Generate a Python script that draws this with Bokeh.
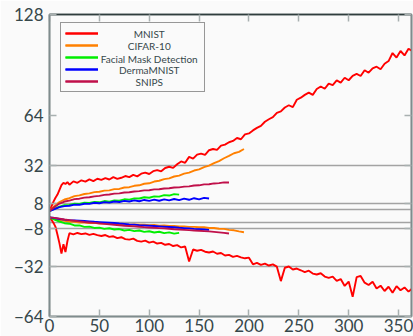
from bokeh.plotting import figure
from bokeh.models import (FixedTicker, LinearAxis, Legend, LegendItem, Range1d, Label)
from bokeh.embed import file_html
from bokeh.resources import INLINE

# ---------------- data ----------------
mnist_epochs = list(range(0, 20, 2)) + list(range(20, 365, 4))
mnist_upper = [3.0, 6.0, 9.0, 11.5, 13.5, 16.5, 19.5, 21.0, 20.2, 21.4,
               19.8, 21.9, 21.0, 22.6, 21.8, 23.2, 22.1, 23.6, 22.9, 24.0,
               23.1, 24.6, 23.5, 24.2, 25.3, 24.6, 26.0, 25.1, 26.8, 27.5,
               26.6, 28.4, 29.1, 28.3, 30.4, 31.2, 30.5, 32.8, 34.6, 33.7,
               37.5, 36.4, 38.9, 39.6, 38.8, 41.7, 42.5, 41.9, 44.6, 45.3,
               46.8, 47.6, 49.5, 48.7, 51.8, 52.4, 54.3, 55.9, 57.2, 59.8,
               61.4, 62.7, 65.5, 66.4, 68.9, 70.3, 69.1, 73.8, 75.1, 76.9,
               78.3, 76.9, 80.6, 82.2, 80.8, 84.0, 83.1, 86.1, 84.7, 87.8,
               86.2, 89.0, 90.2, 88.9, 92.6, 91.0, 93.8, 94.8, 93.2, 96.7,
               98.4, 103.5, 100.6, 104.8, 102.0, 106.2, 104.6]
mnist_lower = [-1.0, -2.5, -4.5, -7.0, -12.0, -17.5, -24.0, -18.0, -23.0, -16.0,
               -11.0, -11.8, -10.9, -11.6, -11.2, -12.1, -11.5, -12.3, -12.8, -12.2,
               -13.4, -13.0, -14.2, -13.6, -14.8, -15.1, -14.5, -15.9, -16.4, -15.8,
               -17.0, -16.4, -17.6, -17.2, -18.4, -17.9, -19.2, -18.6, -20.1, -19.5,
               -29.0, -21.4, -22.2, -21.6, -22.8, -23.3, -22.7, -24.1, -23.6, -25.2,
               -24.8, -26.1, -25.5, -26.4, -27.0, -26.6, -30.8, -29.9, -31.2, -30.4,
               -31.6, -30.9, -32.3, -41.5, -33.0, -32.2, -34.1, -33.5, -34.6, -35.8,
               -34.9, -36.7, -37.3, -36.5, -38.6, -39.4, -38.7, -41.3, -40.2, -44.6,
               -41.8, -51.5, -39.0, -38.2, -42.5, -44.0, -41.9, -46.2, -44.4, -47.8,
               -45.1, -48.9, -44.7, -47.3, -45.5, -48.2, -46.0]

cifar_epochs = list(range(0, 196, 5))
cifar_upper = [3.0, 6.3, 8.8, 10.4, 11.2, 12.5, 13.0, 13.9, 14.3, 15.1,
               15.3, 16.0, 16.2, 17.0, 17.1, 18.0, 18.2, 19.1, 19.4, 20.4,
               20.7, 21.8, 22.3, 23.3, 23.8, 25.0, 25.6, 26.8, 27.5, 28.8,
               29.5, 31.0, 31.9, 33.5, 34.8, 36.6, 38.1, 39.8, 40.7, 42.5]
cifar_lower = [-1.0, -2.0, -2.8, -3.1, -3.7, -3.8, -4.2, -4.2, -4.6, -4.5,
               -4.9, -4.8, -5.1, -5.1, -5.4, -5.3, -5.6, -5.4, -5.7, -5.6,
               -5.9, -5.8, -6.2, -6.1, -6.4, -6.4, -6.7, -6.7, -7.0, -7.0,
               -7.3, -7.3, -7.7, -7.7, -8.2, -8.3, -8.9, -9.2, -9.9, -10.4]

mask_epochs = list(range(0, 131, 5))
mask_upper = [3.0, 4.6, 5.9, 6.8, 6.9, 7.7, 7.6, 8.4, 8.2, 8.9,
              8.6, 9.4, 9.0, 9.8, 9.7, 10.5, 10.3, 11.1, 11.0, 11.8,
              11.5, 12.4, 12.2, 13.2, 12.9, 13.8, 13.5]
mask_lower = [-1.0, -2.4, -3.6, -4.7, -5.0, -6.1, -6.1, -7.0, -6.9, -7.7,
              -7.5, -8.3, -7.9, -8.7, -8.4, -9.3, -8.9, -9.7, -9.3, -10.2,
              -9.8, -10.6, -10.1, -11.0, -10.5, -11.3, -10.8]

derma_epochs = list(range(0, 161, 5))
derma_upper = [3.0, 4.3, 5.5, 6.2, 6.4, 7.1, 7.0, 7.7, 7.6, 8.3,
               8.0, 8.7, 8.4, 9.1, 8.8, 9.5, 9.1, 9.8, 9.3, 10.1,
               9.5, 10.3, 9.6, 10.5, 9.8, 10.7, 10.0, 10.9, 10.2, 11.2,
               10.5, 11.4, 11.0]
derma_lower = [-1.0, -1.4, -2.0, -2.4, -2.7, -2.9, -3.1, -3.3, -3.5, -3.8,
               -4.0, -4.2, -4.4, -4.6, -4.9, -5.1, -5.4, -5.6, -5.9, -6.1,
               -6.3, -6.5, -6.7, -6.9, -7.1, -7.3, -7.6, -7.8, -8.0, -8.3,
               -8.5, -8.7, -8.9]

snips_epochs = list(range(0, 181, 5))
snips_upper = [3.0, 5.6, 7.8, 9.1, 9.7, 10.6, 10.9, 11.6, 11.8, 12.4,
               12.7, 13.3, 13.6, 14.1, 14.3, 14.8, 15.0, 15.5, 15.7, 16.2,
               16.3, 16.8, 16.9, 17.4, 17.5, 18.0, 18.1, 18.6, 18.7, 19.3,
               19.4, 20.0, 20.1, 20.6, 20.8, 21.3, 21.2]
snips_lower = [-1.0, -1.3, -1.8, -2.3, -2.7, -3.1, -3.5, -3.9, -4.2, -4.5,
               -4.8, -5.1, -5.4, -5.7, -6.0, -6.3, -6.5, -6.7, -6.9, -7.2,
               -7.4, -7.6, -7.8, -8.0, -8.2, -8.5, -8.7, -8.9, -9.1, -9.3,
               -9.5, -9.7, -9.9, -10.2, -10.5, -10.8, -11.2]

y_ticks = [-64, -32, -8, 8, 32, 64, 128]
y_grid = [-32, -8, -4, 4, 8, 32]
x_ticks = [0, 50, 100, 150, 200, 250, 300, 350]

series = [
    ("MNIST", "#ff0000", mnist_epochs, mnist_upper, mnist_lower),
    ("CIFAR-10", "#ff8000", cifar_epochs, cifar_upper, cifar_lower),
    ("Facial Mask Detection", "#00ee00", mask_epochs, mask_upper, mask_lower),
    ("DermaMNIST", "#0000ff", derma_epochs, derma_upper, derma_lower),
    ("SNIPS", "#c0104a", snips_epochs, snips_upper, snips_lower),
]

# ---------------- figure ----------------
FONT = "Lato"
BG = "#fafafa"
TXT = "#36474a"
AX = "#7f8c8d"

p = figure(width=413, height=336, output_backend="svg", toolbar_location=None,
           x_range=Range1d(0, 363), y_range=Range1d(-64, 128),
           min_border_left=49, min_border_right=2, min_border_top=14,
           min_border_bottom=20)
p.background_fill_color = BG
p.border_fill_color = BG
p.outline_line_color = "#3b4a4a"
p.outline_line_width = 1.5

items = []
for name, col, xs, up, lo in series:
    r1 = p.line(xs, up, line_color=col, line_width=1.9)
    r2 = p.line(xs, lo, line_color=col, line_width=1.9)
    items.append(LegendItem(label=name, renderers=[r1, r2]))

# axes
for ax in (p.xaxis[0], p.yaxis[0]):
    ax.axis_line_color = AX
    ax.axis_line_width = 1.5
    ax.major_tick_in = 7
    ax.major_tick_out = 0
    ax.major_tick_line_color = "#a8b0b0"
    ax.major_tick_line_width = 1.5
    ax.minor_tick_line_color = None
    ax.major_label_text_font = FONT
    ax.major_label_text_font_size = "17px"
    ax.major_label_text_color = TXT

p.xaxis.ticker = FixedTicker(ticks=x_ticks)
p.xaxis.major_label_standoff = 2
p.yaxis.ticker = FixedTicker(ticks=y_ticks)
p.yaxis.major_label_standoff = 6
p.yaxis.major_label_overrides = {-64: "\u221264", -32: "\u221232", -8: "\u22128"}

top = LinearAxis(ticker=FixedTicker(ticks=x_ticks), major_label_text_font_size="1px",
                 major_label_text_color=None,
                 major_label_standoff=0, major_tick_in=7, major_tick_out=0,
                 major_tick_line_color="#a8b0b0", major_tick_line_width=1.5,
                 minor_tick_line_color=None, axis_line_color="#2f3d3d",
                 axis_line_width=1.5)
p.add_layout(top, "above")
right = LinearAxis(ticker=FixedTicker(ticks=y_ticks), major_label_text_font_size="1px",
                   major_label_text_color=None,
                   major_label_standoff=0, major_tick_in=7, major_tick_out=0,
                   major_tick_line_color="#a8b0b0", major_tick_line_width=1.5,
                   minor_tick_line_color=None, axis_line_color=AX,
                   axis_line_width=1.5)
p.add_layout(right, "right")

p.xgrid.visible = False
p.ygrid.ticker = FixedTicker(ticks=y_grid)
p.ygrid.grid_line_color = "#a3a3a3"
p.ygrid.grid_line_width = 1.5

# legend labels, centred in the legend's label column (drawn before the legend)
label_x = 100
label_ys = [115.3, 107.7, 100.0, 92.4, 84.8]
for (name, *_), ly in zip(series, label_ys):
    p.add_layout(Label(x=label_x, y=ly, text=name, text_align="center",
                       text_baseline="middle", text_font=FONT,
                       text_font_size="10px", text_color=TXT))

# legend box + swatches
legend = Legend(items=items, location=(11, 224), padding=4, spacing=0,
                glyph_width=33, glyph_height=12, label_height=12,
                label_width=97, label_standoff=5,
                label_text_font=FONT, label_text_font_size="10px",
                label_text_color=None,
                border_line_color="#333333", border_line_width=1.5,
                background_fill_color=BG, background_fill_alpha=0.0,
                margin=0)
p.add_layout(legend)

open("out.html", "w").write(file_html(p, INLINE))
